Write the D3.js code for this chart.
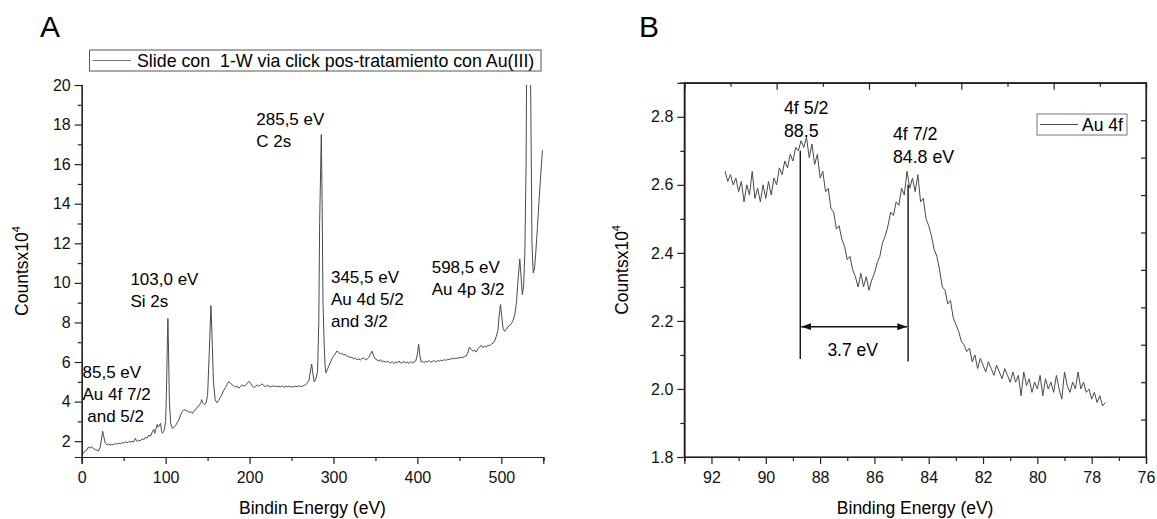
<!DOCTYPE html>
<html>
<head>
<meta charset="utf-8">
<script src="https://cdn.jsdelivr.net/npm/d3@7"></script>
<style>
  body { margin: 0; background: #fff; }
  svg { font-family: "Liberation Sans", Arial, sans-serif; }
</style>
</head>
<body>
<div id="chart"></div>
<script>
// survey spectrum (panel A): [binding energy eV, counts x10^4]
const surveyA = [
  [0,1.25],[2,1.4],[4,1.5],[6,1.55],[8,1.7],[10,1.65],[12,1.72],[14,1.62],[16,1.58],[18,1.55],[20,1.5],[22,1.7],[24,2.2],[25,2.5],[26,2.3],[28,1.9],
  [30,1.82],[32,1.86],[34,1.8],[36,1.84],[38,1.82],[40,1.88],[42,1.85],[44,1.9],[46,1.87],[48,1.93],[50,1.9],[52,1.97],[54,1.92],[56,1.98],[58,1.95],
  [60,2.0],[62,1.96],[64,2.15],[65,2.05],[66,1.98],[68,2.05],[70,2.02],[72,2.12],[74,2.08],[76,2.2],[78,2.15],[80,2.3],[82,2.25],[84,2.45],[86,2.6],
  [87,2.4],[88,2.55],[90,2.85],[91,2.7],[92,2.75],[94,2.9],[95,2.55],[96,2.4],[98,2.5],[100,3.0],[101,4.5],[102,6.8],[102.7,8.2],[103.5,6.5],[104.5,4.0],
  [106,2.9],[108,2.65],[110,2.7],[112,2.8],[114,2.95],[116,3.1],[118,3.35],[120,3.5],[122,3.6],[124,3.55],[126,3.52],[128,3.45],[130,3.5],[132,3.4],
  [134,3.55],[136,3.6],[138,3.75],[140,3.8],[142,3.95],[143,4.1],[144,3.95],[146,3.85],[148,3.9],[150,4.3],[152,6.5],[154,8.85],[155.5,7.0],[157,5.0],
  [159,4.1],[161,3.95],[163,4.05],[165,4.2],[167,4.35],[169,4.55],[171,4.7],[173,4.85],[175,5.0],[177,4.95],[179,4.85],[181,4.8],[183,4.72],[185,4.8],
  [187,4.68],[189,4.75],[191,4.85],[193,4.78],[195,4.82],[197,4.9],[199,5.02],[201,4.95],[203,4.8],[205,4.72],[207,4.75],[209,4.85],[211,4.78],[213,4.83],
  [215,4.9],[217,4.8],[219,4.76],[221,4.82],[223,4.78],[225,4.74],[227,4.8],[229,4.76],[231,4.79],[233,4.74],[235,4.78],[237,4.75],[239,4.8],[241,4.72],
  [243,4.77],[245,4.75],[247,4.79],[249,4.73],[251,4.76],[253,4.74],[255,4.78],[257,4.75],[259,4.8],[261,4.76],[263,4.78],[265,4.82],[267,4.85],[269,4.95],
  [271,5.1],[272,5.4],[274,5.9],[275.5,5.4],[277,5.0],[279,5.15],[281,5.5],[282.5,8],[283.5,13],[285.5,17.5],[286.5,14],[287.5,9],[289,6.8],[290,5.8],
  [291,5.45],[292,5.55],[294,5.75],[296,5.95],[298,6.15],[300,6.3],[302,6.4],[304,6.55],[306,6.5],[308,6.4],[310,6.45],[312,6.35],[314,6.38],[316,6.3],
  [318,6.28],[320,6.22],[322,6.25],[324,6.15],[326,6.2],[328,6.12],[330,6.15],[332,6.1],[334,6.18],[336,6.2],[338,6.12],[340,6.15],[342,6.22],[344,6.4],
  [346,6.55],[348,6.3],[350,6.15],[352,6.1],[354,6.05],[356,6.12],[358,6.0],[360,6.06],[362,5.98],[364,6.04],[366,6.0],[368,5.95],[370,6.02],[372,5.92],
  [374,6.0],[376,5.96],[378,6.05],[380,5.94],[382,5.98],[384,6.02],[386,5.95],[388,6.0],[390,5.93],[392,6.02],[394,5.96],[396,6.0],[398,6.05],[400,6.4],
  [401.5,6.9],[403,6.3],[404.5,6.0],[406,6.05],[408,5.96],[410,6.05],[412,6.0],[414,6.08],[416,5.98],[418,6.04],[420,6.06],[422,6.0],[424,6.08],[426,6.04],
  [428,6.1],[430,6.06],[432,6.12],[434,6.08],[436,6.14],[438,6.12],[440,6.18],[442,6.15],[444,6.2],[446,6.16],[448,6.22],[450,6.2],[452,6.24],[454,6.22],
  [456,6.28],[458,6.3],[460,6.45],[462,6.75],[464,6.65],[466,6.55],[468,6.6],[470,6.5],[472,6.65],[474,6.75],[476,6.85],[478,6.72],[480,6.8],[482,6.75],
  [484,6.85],[486,6.82],[488,6.9],[490,6.95],[492,7.05],[494,7.3],[496,7.6],[497,8.2],[499,8.9],[500.5,8.3],[502,7.7],[504,7.55],[506,7.65],[508,7.8],
  [510,7.85],[512,7.95],[514,8.1],[516,8.4],[518,9.0],[520,10.2],[522,11.2],[523.5,10.3],[525,9.4],[526.5,9.8],[528,11.5],[529.5,16],[531,28],[532.5,32],
  [534.5,22],[536.5,12],[538,10.5],[539.5,10.7],[541,11.5],[543,12.8],[545,14.2],[547,15.5],[549,16.7]
];

// Au 4f region (panel B)
const energyB = [
  91.5,91.4,91.3,91.2,91.1,91.0,90.9,90.8,90.7,90.6,90.5,90.4,90.3,90.2,90.1,90.0,89.9,89.8,89.7,89.6,
  89.5,89.4,89.3,89.2,89.1,89.0,88.9,88.8,88.7,88.6,88.5,88.4,88.3,88.2,88.1,88.0,87.9,87.8,87.7,87.6,
  87.5,87.4,87.3,87.2,87.1,87.0,86.9,86.8,86.7,86.6,86.5,86.4,86.3,86.2,86.1,86.0,85.9,85.8,85.7,85.6,
  85.5,85.4,85.3,85.2,85.1,85.0,84.9,84.8,84.7,84.6,84.5,84.4,84.3,84.2,84.1,84.0,83.9,83.8,83.7,83.6,
  83.5,83.4,83.3,83.2,83.1,83.0,82.9,82.8,82.7,82.6,82.5,82.4,82.3,82.2,82.1,82.0,81.9,81.8,81.7,81.6,
  81.5,81.4,81.3,81.2,81.1,81.0,80.9,80.8,80.7,80.6,80.5,80.4,80.3,80.2,80.1,80.0,79.9,79.8,79.7,79.6,
  79.5,79.4,79.3,79.2,79.1,79.0,78.9,78.8,78.7,78.6,78.5,78.4,78.3,78.2,78.1,78.0,77.9,77.8,77.7,77.6,77.5
];
const countsB = [
  2.64,2.61,2.63,2.60,2.62,2.58,2.61,2.55,2.60,2.57,2.64,2.56,2.59,2.55,2.60,2.56,2.61,2.57,2.62,2.60,
  2.65,2.63,2.67,2.65,2.69,2.67,2.71,2.70,2.73,2.71,2.74,2.68,2.72,2.66,2.69,2.62,2.64,2.58,2.59,2.53,
  2.52,2.47,2.48,2.44,2.42,2.38,2.39,2.35,2.33,2.30,2.34,2.30,2.33,2.29,2.32,2.34,2.37,2.39,2.43,2.45,
  2.48,2.52,2.51,2.55,2.54,2.59,2.57,2.64,2.59,2.62,2.58,2.63,2.55,2.56,2.50,2.48,2.45,2.41,2.39,2.35,
  2.30,2.29,2.25,2.26,2.21,2.19,2.17,2.14,2.13,2.11,2.12,2.08,2.10,2.06,2.09,2.07,2.05,2.08,2.06,2.04,
  2.07,2.05,2.03,2.06,2.04,2.02,2.05,2.02,2.04,1.98,2.05,2.01,2.03,1.99,2.02,2.00,2.04,1.98,2.03,2.00,
  2.02,1.99,2.04,2.00,1.97,2.05,2.01,1.99,2.02,2.00,2.05,2.00,2.02,1.99,2.00,1.97,1.99,1.96,1.98,1.95,1.96
];

const ticksAx = [0, 100, 200, 300, 400, 500];
const ticksAy = [2, 4, 6, 8, 10, 12, 14, 16, 18, 20];
const ticksBx = [92, 90, 88, 86, 84, 82, 80, 78, 76];
const ticksBy = [1.8, 2.0, 2.2, 2.4, 2.6, 2.8];

// peak labels: [x, y, lines]
const labelsA = [
  [1, 5.2, ["85,5 eV", "Au 4f 7/2", " and 5/2"]],
  [58, 9.9, ["103,0 eV", "Si 2s"]],
  [208, 18.0, ["285,5 eV", "C 2s"]],
  [297, 10.0, ["345,5 eV", "Au 4d 5/2", "and 3/2"]],
  [417, 10.5, ["598,5 eV", "Au 4p 3/2"]]
];
const labelsB = [
  [89.33, 2.809, ["4f 5/2", "88.5"]],
  [85.32, 2.732, ["4f 7/2", "84.8 eV"]]
];
const peakLinesB = [[88.73, 2.088, 2.70], [84.76, 2.081, 2.60]];
const splitB = { from: 88.73, to: 84.76, y: 2.183, label: "3.7 eV" };

const W = 1157, H = 519;
const svg = d3.select("#chart").append("svg")
  .attr("width", W).attr("height", H)
  .attr("viewBox", `0 0 ${W} ${H}`);

const lineColor = "#4a4a4a";
const fsTick = 16, fsTitle = 17.5;

// ---------- panel A ----------
const xA = d3.scaleLinear().domain([0, 550]).range([81.7, 543.3]);
const yA = d3.scaleLinear().domain([1.2, 20]).range([457, 85]);

svg.append("defs").append("clipPath").attr("id", "clipA")
  .append("rect").attr("x", xA(0)).attr("y", yA(20)).attr("width", xA(550) - xA(0) + 3).attr("height", yA(1.2) - yA(20));

svg.append("path")
  .datum(surveyA)
  .attr("clip-path", "url(#clipA)")
  .attr("fill", "none")
  .attr("stroke", lineColor)
  .attr("stroke-width", 1)
  .attr("d", d3.line().x(d => xA(d[0])).y(d => yA(d[1])));

// minor ticks
svg.append("g").attr("transform", `translate(0,${yA(1.2)})`)
  .call(d3.axisBottom(xA).tickValues(d3.range(50, 551, 100)).tickSize(4).tickFormat(""));
svg.append("g").attr("transform", `translate(${xA(0)},0)`)
  .call(d3.axisLeft(yA).tickValues(d3.range(3, 20, 2)).tickSize(4).tickFormat(""));
// major
svg.append("g").attr("transform", `translate(0,${yA(1.2)})`)
  .call(d3.axisBottom(xA).tickValues(ticksAx).tickSize(7).tickPadding(8));
svg.append("g").attr("transform", `translate(${xA(0)},0)`)
  .call(d3.axisLeft(yA).tickValues(ticksAy).tickSize(7).tickPadding(4));

// legend A
const legA = svg.append("g");
legA.append("rect").attr("x", 89.5).attr("y", 50).attr("width", 451.5).attr("height", 21)
  .attr("fill", "#fff").attr("stroke", "#555").attr("stroke-width", 1);
legA.append("line").attr("x1", 92.5).attr("x2", 131).attr("y1", 60.5).attr("y2", 60.5)
  .attr("stroke", "#777").attr("stroke-width", 1);
legA.append("text").attr("x", 137).attr("y", 67).attr("font-size", 17.8)
  .attr("xml:space", "preserve")
  .text("Slide con  1-W via click pos-tratamiento con Au(III)");

labelsA.forEach(([x, y, lines]) => {
  const t = svg.append("text").attr("x", xA(x)).attr("y", yA(y)).attr("font-size", 17).attr("xml:space", "preserve");
  lines.forEach((s, i) => t.append("tspan").attr("x", xA(x)).attr("dy", i ? 22 : 0).text(s));
});

svg.append("text").attr("x", xA(275)).attr("y", 514).attr("text-anchor", "middle")
  .attr("font-size", fsTitle).text("Bindin Energy (eV)");
const ytA = svg.append("text").attr("transform", `translate(28,${yA(10.6)}) rotate(-90)`)
  .attr("text-anchor", "middle").attr("font-size", fsTitle);
ytA.append("tspan").text("Countsx10");
ytA.append("tspan").attr("dy", -8).attr("font-size", 11).text("4");

svg.append("text").attr("x", 40).attr("y", 37).attr("font-size", 30).text("A");

// ---------- panel B ----------
const xB = d3.scaleLinear().domain([93, 76]).range([684.3, 1146]);
const yB = d3.scaleLinear().domain([1.8, 2.9]).range([457, 82.8]);
// mirror axes on top and right carry their own even spacing
const xTop = d3.scaleLinear().domain([0, 10]).range([684.3, 1146]);
const yRight = d3.scaleLinear().domain([0, 10]).range([457, 82.8]);

svg.append("rect").attr("x", xB(93)).attr("y", yB(2.9))
  .attr("width", xB(76) - xB(93)).attr("height", yB(1.8) - yB(2.9))
  .attr("fill", "none").attr("stroke", "#222").attr("stroke-width", 1.2);

svg.append("path")
  .datum(energyB.map((e, i) => [e, countsB[i]]))
  .attr("fill", "none")
  .attr("stroke", lineColor)
  .attr("stroke-width", 1)
  .attr("d", d3.line().x(d => xB(d[0])).y(d => yB(d[1])));

svg.append("g").attr("transform", `translate(0,${yB(1.8)})`)
  .call(d3.axisBottom(xB).tickValues(d3.range(93, 76, -2)).tickSize(4).tickFormat(""));
svg.append("g").attr("transform", `translate(${xB(93)},0)`)
  .call(d3.axisLeft(yB).tickValues([1.9, 2.1, 2.3, 2.5, 2.7, 2.9]).tickSize(4).tickFormat(""));
svg.append("g").attr("transform", `translate(0,${yB(1.8)})`)
  .call(d3.axisBottom(xB).tickValues(ticksBx).tickSize(7).tickPadding(8));
svg.append("g").attr("transform", `translate(${xB(93)},0)`)
  .call(d3.axisLeft(yB).tickValues(ticksBy).tickSize(7).tickPadding(4).tickFormat(d3.format(".1f")));
svg.append("g").attr("transform", `translate(0,${yB(2.9)})`)
  .call(d3.axisBottom(xTop).tickValues([1, 3, 5, 7, 9]).tickSize(4).tickFormat(""));
svg.append("g").attr("transform", `translate(0,${yB(2.9)})`)
  .call(d3.axisBottom(xTop).tickValues([2, 4, 6, 8]).tickSize(7).tickFormat(""));
svg.append("g").attr("transform", `translate(${xB(76)},0)`)
  .call(d3.axisLeft(yRight).tickValues(d3.range(1, 10)).tickSize(5).tickFormat(""));

// peak markers
peakLinesB.forEach(([x, y0, y1]) => {
  svg.append("line").attr("x1", xB(x)).attr("x2", xB(x)).attr("y1", yB(y0)).attr("y2", yB(y1))
    .attr("stroke", "#111").attr("stroke-width", 1.4);
});
svg.append("defs").selectAll("marker").data(["s", "e"]).join("marker")
  .attr("id", d => "arr" + d)
  .attr("viewBox", "0 0 10 10").attr("refX", 10).attr("refY", 5)
  .attr("markerWidth", 7).attr("markerHeight", 7).attr("orient", "auto-start-reverse")
  .append("path").attr("d", "M0,1.5L10,5L0,8.5z").attr("fill", "#111");
svg.append("line")
  .attr("x1", xB(splitB.from) + 1).attr("x2", xB(splitB.to) - 1)
  .attr("y1", yB(splitB.y)).attr("y2", yB(splitB.y))
  .attr("stroke", "#111").attr("stroke-width", 1.4)
  .attr("marker-start", "url(#arrs)").attr("marker-end", "url(#arre)");
svg.append("text").attr("x", xB(86.8)).attr("y", yB(2.096)).attr("text-anchor", "middle")
  .attr("font-size", 17.5).text(splitB.label);

labelsB.forEach(([x, y, lines]) => {
  const t = svg.append("text").attr("x", xB(x)).attr("y", yB(y)).attr("font-size", 17.8);
  lines.forEach((s, i) => t.append("tspan").attr("x", xB(x)).attr("dy", i ? 23 : 0).text(s));
});

// legend B
const legB = svg.append("g");
legB.append("rect").attr("x", 1037).attr("y", 114).attr("width", 90).attr("height", 21)
  .attr("fill", "#fff").attr("stroke", "#777").attr("stroke-width", 1);
legB.append("line").attr("x1", 1040).attr("x2", 1078).attr("y1", 124.5).attr("y2", 124.5)
  .attr("stroke", lineColor).attr("stroke-width", 1);
legB.append("text").attr("x", 1082).attr("y", 131).attr("font-size", 17.5).text("Au 4f");

svg.append("text").attr("x", (xB(93) + xB(76)) / 2).attr("y", 514).attr("text-anchor", "middle")
  .attr("font-size", fsTitle).text("Binding Energy (eV)");
const ytB = svg.append("text").attr("transform", `translate(628,${(yB(1.8) + yB(2.9)) / 2}) rotate(-90)`)
  .attr("text-anchor", "middle").attr("font-size", fsTitle);
ytB.append("tspan").text("Countsx10");
ytB.append("tspan").attr("dy", -8).attr("font-size", 11).text("4");

svg.append("text").attr("x", 639).attr("y", 37).attr("font-size", 30).text("B");

// axis styling
svg.selectAll(".tick text").attr("font-size", fsTick).attr("fill", "#111")
  .attr("font-family", "Liberation Sans, Arial, sans-serif");
svg.selectAll(".domain").attr("stroke", "#222").attr("stroke-width", 1.2);
svg.selectAll(".tick line").attr("stroke", "#222").attr("stroke-width", 1.2);
</script>
</body>
</html>
